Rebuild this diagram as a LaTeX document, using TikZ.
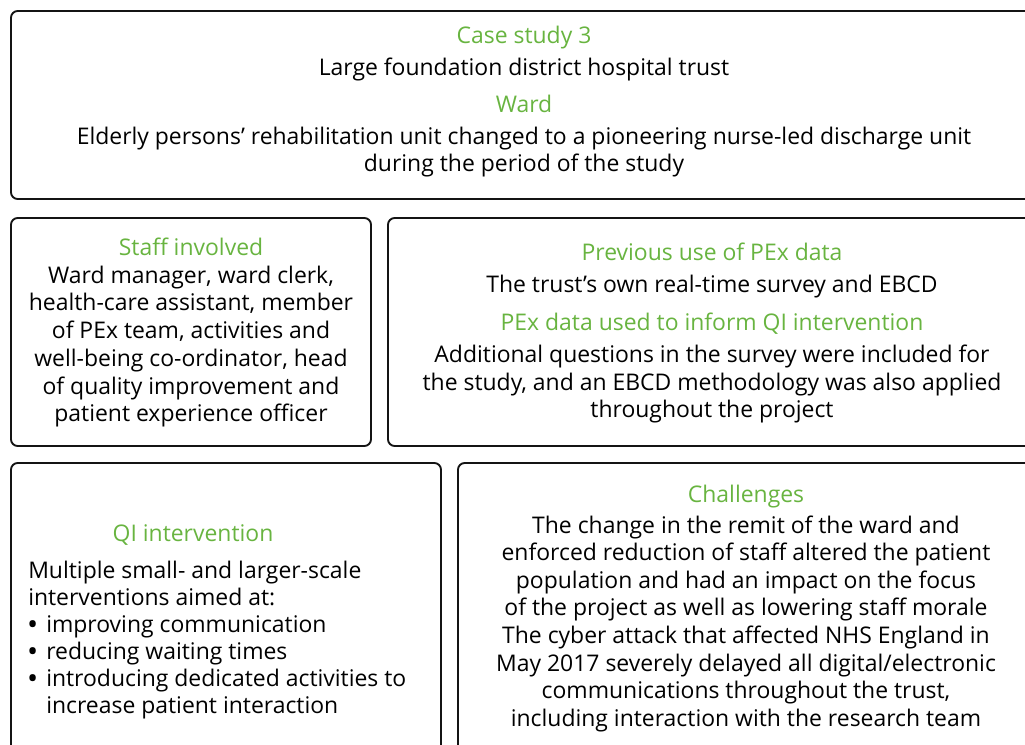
\documentclass[tikz,border=0pt]{standalone}
\usepackage{fontspec}
\setmainfont{Open Sans}
\definecolor{hdgreen}{RGB}{104,180,64}
\definecolor{edge}{RGB}{20,20,20}
\begin{document}
\begin{tikzpicture}[x=0.75pt,y=-0.75pt,
  panel/.style={draw=edge, line width=1.4pt, rounded corners=5pt},
  txt/.style={font=\fontsize{17.2}{21}\selectfont, inner sep=0pt, anchor=base},
  head/.style={txt, text=hdgreen},
  lft/.style={txt, anchor=base west},
  bul/.style={lft, font=\fontsize{17.2}{21}\selectfont\bfseries}]
\useasboundingbox (0,0) rectangle (1025,744);
\clip (0,0) rectangle (1025,744);

% panels
\draw[panel] (11,11) rectangle (1040,199);
\draw[panel] (11,218) rectangle (371,446);
\draw[panel] (388,218) rectangle (1040,446);
\draw[panel] (11,463) rectangle (441,770);
\draw[panel] (458,463) rectangle (1040,770);

% case study
\node[head] (cs)  at (524,43)  {Case study 3};
\node[txt]  (cs1) at (524,75)  {Large foundation district hospital trust};
\node[head] (wd)  at (524,112) {Ward};
\node[txt]  (wd1) at (524,144) {Elderly persons’ rehabilitation unit changed to a pioneering nurse-led discharge unit};
\node[txt]  (wd2) at (524,171) {during the period of the study};

% staff
\node[head] (st)  at (191,255) {Staff involved};
\node[txt]  (st1) at (191,283) {Ward manager, ward clerk,};
\node[txt]  (st2) at (191,310) {health-care assistant, member};
\node[txt]  (st3) at (191,338) {of PEx team, activities and};
\node[txt]  (st4) at (191,366) {well-being co-ordinator, head};
\node[txt]  (st5) at (191,394) {of quality improvement and};
\node[txt]  (st6) at (191,421) {patient experience officer};

% previous use
\node[head] (pu)  at (712,260) {Previous use of PEx data};
\node[txt]  (pu1) at (712,292) {The trust’s own real-time survey and EBCD};
\node[head] (pd)  at (712,330) {PEx data used to inform QI intervention};
\node[txt]  (pd1) at (712,362) {Additional questions in the survey were included for};
\node[txt]  (pd2) at (712,390) {the study, and an EBCD methodology was also applied};
\node[txt]  (pd3) at (712,417) {throughout the project};

% QI intervention
\node[head] (qi)  at (193,541) {QI intervention};
\node[lft]  (qi1) at (28,578) {Multiple small- and larger-scale};
\node[lft]  (qi2) at (28,605) {interventions aimed at:};
\node[bul]  (qb1) at (28,632) {•};
\node[lft]  (qi3) at (46,632) {improving communication};
\node[bul]  (qb2) at (28,659) {•};
\node[lft]  (qi4) at (46,659) {reducing waiting times};
\node[bul]  (qb3) at (28,686) {•};
\node[lft]  (qi5) at (46,686) {introducing dedicated activities to};
\node[lft]  (qi6) at (46,713) {increase patient interaction};

% challenges
\node[head] (ch)  at (746,502) {Challenges};
\node[txt]  (ch1) at (746,533) {The change in the remit of the ward and};
\node[txt]  (ch2) at (746,560) {enforced reduction of staff altered the patient};
\node[txt]  (ch3) at (746,588) {population and had an impact on the focus};
\node[txt]  (ch4) at (746,615) {of the project as well as lowering staff morale};
\node[txt]  (ch5) at (746,643) {The cyber attack that affected NHS England in};
\node[txt]  (ch6) at (746,671) {May 2017 severely delayed all digital/electronic};
\node[txt]  (ch7) at (746,698) {communications throughout the trust,};
\node[txt]  (ch8) at (746,726) {including interaction with the research team};
\end{tikzpicture}
\end{document}
